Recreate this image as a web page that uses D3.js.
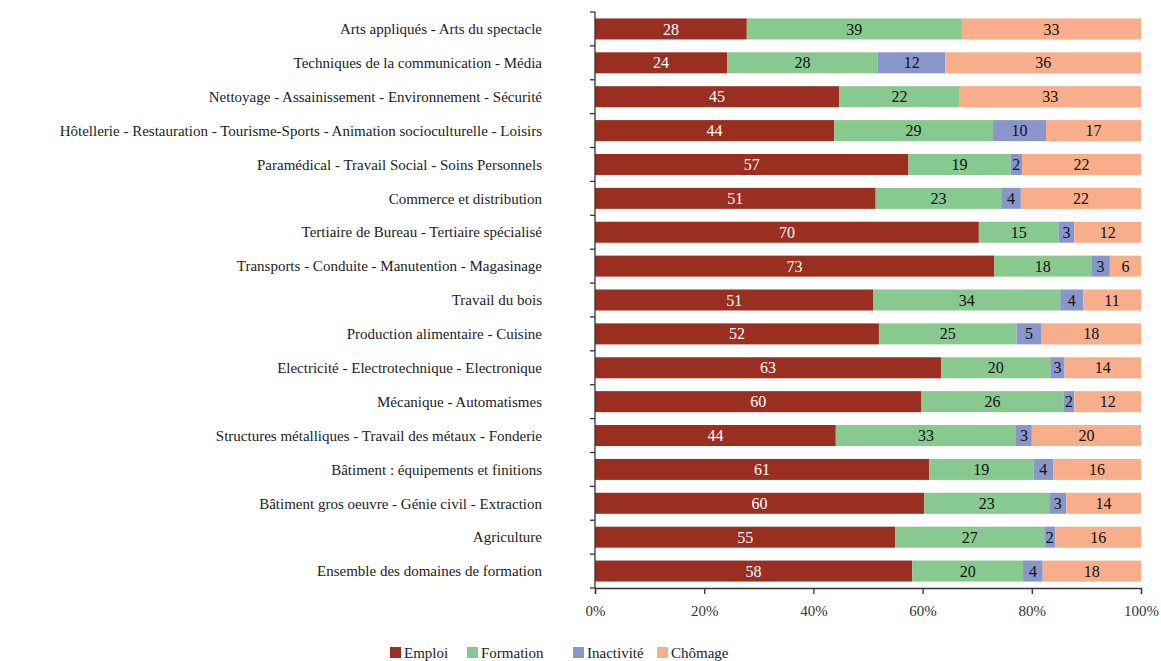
<!DOCTYPE html>
<html>
<head>
<meta charset="utf-8">
<script src="https://cdn.jsdelivr.net/npm/d3@7"></script>
<style>
body { margin: 0; background: #fff; }
</style>
</head>
<body>
<div id="chart"></div>
<script>
var width = 1161,
    height = 661;
var font = "Liberation Serif";

// categories, top to bottom
var categories = [
    "Arts appliqués - Arts du spectacle",
    "Techniques de la communication - Média",
    "Nettoyage - Assainissement - Environnement - Sécurité",
    "Hôtellerie - Restauration - Tourisme-Sports - Animation socioculturelle - Loisirs",
    "Paramédical - Travail Social - Soins Personnels",
    "Commerce et distribution",
    "Tertiaire de Bureau - Tertiaire spécialisé",
    "Transports - Conduite - Manutention - Magasinage",
    "Travail du bois",
    "Production alimentaire - Cuisine",
    "Electricité - Electrotechnique - Electronique",
    "Mécanique - Automatismes",
    "Structures métalliques - Travail des métaux - Fonderie",
    "Bâtiment : équipements et finitions",
    "Bâtiment gros oeuvre - Génie civil - Extraction",
    "Agriculture",
    "Ensemble des domaines de formation"
];

var series = ["Emploi", "Formation", "Inactivité", "Chômage"];

// percentages
var emploi     = [27.8, 24.2, 44.7, 43.8, 57.4, 51.4, 70.3, 73.1, 51.0, 52.0, 63.4, 59.8, 44.1, 61.2, 60.3, 55.0, 58.1];
var formation  = [39.4, 27.6, 22.1, 29.1, 18.7, 23.0, 14.6, 17.8, 34.2, 25.2, 20.0, 26.0, 33.0, 19.1, 22.9, 27.3, 20.3];
var inactivite = [0,    12.4, 0,    9.7,  2.1,  3.6,  2.9,  3.4,  4.2,  4.6,  2.6,  2.0,  2.9,  3.6,  3.1,  2.0,  3.6];
var chomage    = [32.8, 35.8, 33.2, 17.4, 21.8, 22.0, 12.2, 5.7,  10.6, 18.2, 14.0, 12.2, 20.0, 16.1, 13.7, 15.7, 18.0];

var xTicks = [0, 20, 40, 60, 80, 100];

var colors = ["#992e21", "#87c98e", "#8896ca", "#f8ae8b"];
var labelColors = ["#ffffff", "#111111", "#111111", "#111111"];

// build rows for the stack
var rows = categories.map(function(c, i) {
    return {cat: c, "Emploi": emploi[i], "Formation": formation[i], "Inactivité": inactivite[i], "Chômage": chomage[i]};
});
var stacked = d3.stack().keys(series)(rows);

var plotLeft = 595, plotRight = 1141, plotTop = 12, plotBottom = 588;

var svg = d3.select('#chart').append('svg')
    .attr('width', width)
    .attr('height', height)
    .attr('font-family', font);

var scaleX = d3.scaleLinear().domain([0, 100]).range([plotLeft, plotRight]);
var scaleY = d3.scaleBand().domain(categories).range([plotTop, plotBottom]).paddingInner(0.38).paddingOuter(0.19);
var scaleC = d3.scaleOrdinal().domain(series).range(colors);

// bars
var layers = svg.append('g').selectAll('.layer').data(stacked)
    .enter().append('g')
    .attr('class', 'layer')
    .attr('fill', function(d) { return scaleC(d.key); });

layers.selectAll('rect').data(function(d) { return d; })
    .enter().append('rect')
    .attr('x', function(d) { return scaleX(d[0]); })
    .attr('y', function(d) { return scaleY(d.data.cat); })
    .attr('width', function(d) { return scaleX(d[1]) - scaleX(d[0]); })
    .attr('height', scaleY.bandwidth());

// value labels
layers.each(function(layer, li) {
    d3.select(this).selectAll('text').data(layer.filter(function(d) { return d[1] - d[0] > 0; }))
        .enter().append('text')
        .attr('x', function(d) { return (scaleX(d[0]) + scaleX(d[1])) / 2; })
        .attr('y', function(d) { return scaleY(d.data.cat) + scaleY.bandwidth() / 2; })
        .attr('dy', '0.35em')
        .attr('text-anchor', 'middle')
        .attr('font-family', font)
        .attr('font-size', '16px')
        .attr('fill', labelColors[li])
        .text(function(d) { return Math.round(d[1] - d[0]); });
});

// y axis: line + ticks at band boundaries
var axisY = svg.append('g').attr('class', 'yaxis');
axisY.append('line')
    .attr('x1', plotLeft).attr('x2', plotLeft)
    .attr('y1', plotTop).attr('y2', plotBottom)
    .attr('stroke', '#333').attr('stroke-width', 1.3);
var bounds = d3.range(categories.length + 1).map(function(i) { return plotTop + i * (plotBottom - plotTop) / categories.length; });
axisY.selectAll('.ytick').data(bounds)
    .enter().append('line')
    .attr('class', 'ytick')
    .attr('x1', plotLeft - 5).attr('x2', plotLeft)
    .attr('y1', function(d) { return d; }).attr('y2', function(d) { return d; })
    .attr('stroke', '#333').attr('stroke-width', 1.3);
axisY.selectAll('.ylabel').data(categories)
    .enter().append('text')
    .attr('class', 'ylabel')
    .attr('x', 542)
    .attr('y', function(d) { return scaleY(d) + scaleY.bandwidth() / 2; })
    .attr('dy', '0.35em')
    .attr('text-anchor', 'end')
    .attr('font-family', font)
    .attr('font-size', '15px')
    .attr('fill', '#222')
    .text(function(d) { return d; });

// x axis
var axisX = d3.axisBottom(scaleX)
    .tickValues(xTicks)
    .tickSize(6)
    .tickPadding(11)
    .tickFormat(function(d) { return d + "%"; });
var gx = svg.append('g')
    .attr('transform', 'translate(0,' + plotBottom + ')')
    .call(axisX)
    .attr('font-family', font);
gx.select('.domain').attr('stroke', '#333').attr('stroke-width', 1.3);
gx.selectAll('.tick line').attr('stroke', '#333').attr('stroke-width', 1.3);
gx.selectAll('.tick text')
    .attr('font-family', font)
    .attr('font-size', '15px')
    .attr('fill', '#333');

// legend
var legendX = [390, 467, 573, 657];
var legend = svg.append('g').attr('class', 'legend');
var li = legend.selectAll('.item').data(series)
    .enter().append('g')
    .attr('class', 'item')
    .attr('transform', function(d, i) { return 'translate(' + legendX[i] + ',653)'; });
li.append('rect')
    .attr('x', 0).attr('y', -6)
    .attr('width', 11).attr('height', 11)
    .attr('fill', function(d) { return scaleC(d); });
li.append('text')
    .attr('x', 14)
    .attr('y', 0)
    .attr('dy', '0.35em')
    .attr('font-family', font)
    .attr('font-size', '15px')
    .attr('fill', '#222')
    .text(function(d) { return d; });
</script>
</body>
</html>
